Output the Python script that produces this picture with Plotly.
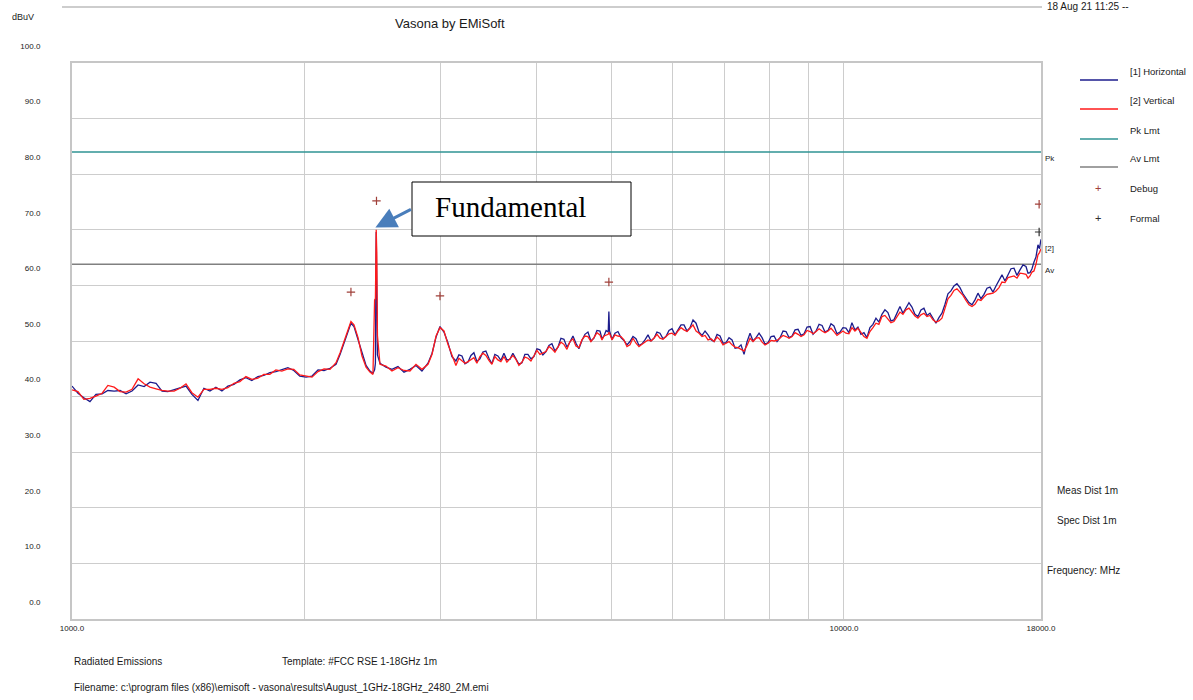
import math
import plotly.graph_objects as go

# ---------------- data ----------------
freq_mhz = [
    1000, 1018, 1036, 1055, 1074, 1094, 1113, 1134, 1154, 1175, 1196, 1218, 1240, 1262, 1285,
    1308, 1331, 1356, 1380, 1405, 1430, 1456, 1482, 1509, 1536, 1564, 1592, 1621, 1650, 1680,
    1710, 1741, 1772, 1804, 1837, 1870, 1904, 1938, 1973, 2010, 2046, 2083, 2121, 2159, 2198,
    2225, 2251, 2278, 2298, 2319, 2347, 2375, 2404, 2432, 2454,
    2466, 2472, 2478, 2482, 2487,
    2506, 2551, 2597, 2644, 2692, 2740, 2790, 2840, 2892, 2927, 2962, 2997, 3033, 3069, 3106,
    3143, 3171, 3200, 3229, 3258, 3287, 3316, 3346, 3376, 3406, 3437, 3468, 3499, 3530, 3562, 3594, 3627, 3659, 3692, 3725,
    3759, 3793, 3827, 3861, 3896, 3931, 3966, 4002, 4038, 4074, 4111, 4148, 4185, 4223, 4261, 4299, 4338, 4377, 4416, 4456,
    4496, 4536, 4577, 4618, 4660, 4702, 4744, 4787, 4830, 4859, 4888, 4919, 4950, 4960, 4970, 4988, 5006, 5051, 5096, 5142,
    5188, 5235, 5282, 5330, 5378, 5426, 5475, 5524, 5574, 5624, 5674, 5725, 5777, 5829, 5881, 5934, 5988, 6042, 6096, 6151,
    6206, 6262, 6318, 6375, 6433, 6491, 6549, 6608, 6667, 6727, 6788, 6849, 6910, 6972, 7035, 7098, 7162, 7227, 7292, 7357,
    7423, 7490, 7557, 7625, 7694, 7763, 7833, 7903, 7974, 8046, 8118, 8191, 8265, 8339, 8414, 8490, 8566, 8643, 8721, 8799,
    8878, 8958, 9039, 9120, 9202, 9285, 9368, 9452, 9537, 9621, 9706, 9794, 9882, 9971, 10060, 10150, 10241, 10333, 10426, 10520,
    10615, 10710, 10806, 10904, 11002, 11100, 11200, 11300, 11402, 11505, 11608, 11713, 11818, 11924, 12031, 12140, 12249, 12359, 12470, 12582,
    12695, 12810, 12925, 13041, 13158, 13276, 13396, 13517, 13638, 13760, 13884, 14009, 14135, 14262, 14391, 14520, 14651, 14782, 14915, 15049,
    15185, 15321, 15459, 15598, 15738, 15880, 16023, 16166, 16312, 16459, 16607, 16756, 16907, 17059, 17212, 17315, 17419, 17523, 17627, 17732, 17838, 17919, 18000,
]

horiz_dbuv = [
    41.9, 40.6, 39.8, 39.1, 40.4, 40.5, 41.1, 41.0, 41.1, 40.5, 41.0, 42.1, 41.8, 42.6, 42.4,
    41.0, 40.9, 41.2, 41.6, 41.9, 40.4, 39.3, 41.5, 41.0, 41.7, 41.0, 41.9, 42.2, 43.0, 43.4,
    42.9, 43.6, 43.8, 44.3, 44.5, 44.8, 45.2, 44.7, 43.7, 43.5, 43.7, 44.8, 44.7, 45.1, 45.8,
    47.6, 49.5, 51.8, 53.2, 52.6, 50.3, 47.6, 45.6, 44.6, 44.2,
    44.8, 46.0, 69.6, 56.0, 47.5,
    46.0, 45.3, 44.9, 45.4, 44.4, 44.9, 45.6, 44.6, 46.0, 47.8, 50.7, 52.6, 51.6, 49.7, 47.2,
    46.4, 47.5, 47.3, 45.9, 46.2, 47.4, 47.9, 46.3, 46.8, 48.0, 48.2, 46.9, 45.9, 47.6, 47.3, 46.5, 47.8, 46.6, 46.7, 47.8,
    46.9, 45.8, 46.1, 47.6, 47.6, 46.8, 47.2, 48.6, 48.4, 47.5, 48.1, 49.2, 49.5, 48.2, 48.9, 50.5, 50.3, 48.9, 49.8, 50.9,
    49.6, 48.6, 50.1, 51.2, 51.6, 50.0, 50.5, 51.9, 51.8, 50.4, 50.9, 51.9, 51.6, 55.3, 51.8, 50.9, 50.3, 51.4, 51.7, 50.6,
    50.1, 49.3, 49.9, 50.8, 50.4, 49.2, 49.5, 50.2, 51.1, 50.0, 50.5, 51.6, 51.4, 50.4, 50.8, 51.9, 52.2, 51.1, 51.9, 52.9,
    52.9, 51.8, 52.4, 53.8, 53.2, 51.6, 51.0, 51.8, 51.1, 50.2, 49.9, 51.2, 50.9, 49.6, 49.7, 50.6, 50.2, 48.7, 48.8, 49.3,
    47.6, 49.9, 51.4, 50.0, 50.6, 51.4, 50.6, 49.4, 49.7, 50.8, 50.9, 49.9, 50.6, 51.8, 51.7, 50.6, 50.9, 52.0, 52.1, 51.0,
    51.3, 52.5, 52.6, 51.2, 51.8, 53.0, 52.8, 51.6, 51.9, 53.1, 52.7, 51.3, 51.6, 52.4, 52.3, 51.5, 53.3, 52.0, 52.5, 51.2,
    51.5, 50.6, 52.4, 53.0, 54.1, 53.4, 54.8, 55.6, 55.1, 53.6, 53.8, 54.9, 56.2, 55.0, 55.9, 56.9, 56.1, 54.8, 54.4, 55.6,
    55.9, 54.6, 55.0, 54.2, 53.2, 54.2, 55.0, 56.6, 58.5, 59.0, 59.9, 60.3, 59.6, 58.5, 57.8, 56.9, 56.5, 57.4, 58.6, 57.6,
    58.4, 59.5, 59.7, 58.8, 59.9, 60.9, 61.9, 60.8, 62.0, 63.0, 63.1, 61.8, 62.8, 63.7, 63.4, 62.2, 62.3, 63.0, 64.2, 65.1, 67.3, 66.6, 68.3,
]

vert_dbuv = [
    41.2, 40.9, 39.5, 39.7, 40.1, 40.6, 42.0, 41.7, 40.9, 40.8, 41.3, 43.2, 42.3, 41.7, 41.4,
    41.1, 41.0, 41.0, 41.5, 42.3, 40.7, 39.9, 41.3, 41.3, 41.5, 41.3, 41.6, 42.4, 42.7, 43.6,
    43.1, 43.3, 44.0, 44.0, 44.8, 44.6, 45.0, 44.9, 43.9, 43.7, 43.5, 44.5, 45.0, 44.9, 46.1,
    47.9, 49.8, 52.1, 53.5, 52.9, 50.6, 47.3, 45.3, 44.4, 44.0,
    57.4, 57.6, 70.0, 66.0, 51.0,
    45.8, 45.5, 44.6, 45.2, 44.7, 44.6, 45.8, 44.9, 45.8, 47.6, 50.9, 52.4, 51.8, 49.4, 47.5,
    45.6, 46.9, 46.5, 46.0, 46.3, 46.6, 47.0, 46.0, 47.2, 47.8, 47.4, 46.5, 45.8, 47.2, 46.6, 46.3, 47.2, 46.2, 46.8, 47.4,
    46.7, 45.6, 46.2, 47.1, 46.9, 46.4, 47.3, 48.3, 47.6, 47.9, 48.1, 49.0, 48.6, 48.0, 49.0, 49.8, 49.4, 48.5, 49.9, 50.4,
    49.1, 48.8, 50.2, 50.9, 50.8, 49.9, 50.6, 51.5, 51.1, 50.2, 50.9, 51.0, 51.2, 51.6, 51.4, 50.8, 50.2, 51.1, 50.9, 50.8,
    50.2, 49.0, 49.3, 50.5, 49.6, 49.0, 49.4, 49.8, 50.2, 50.0, 50.5, 51.2, 50.5, 50.3, 50.8, 51.3, 51.4, 51.0, 51.8, 52.4,
    52.0, 51.7, 52.3, 52.9, 51.8, 51.4, 50.8, 51.0, 50.2, 50.4, 49.9, 50.7, 50.2, 49.3, 49.6, 49.9, 49.3, 48.9, 48.8, 48.5,
    48.2, 49.2, 50.5, 49.9, 50.5, 50.6, 49.8, 49.3, 49.6, 50.1, 50.0, 50.1, 50.5, 51.0, 50.8, 50.5, 50.8, 51.5, 51.2, 50.8,
    51.1, 51.9, 51.7, 51.3, 51.7, 52.2, 51.8, 51.5, 51.8, 52.3, 51.7, 51.0, 51.4, 51.8, 51.4, 51.3, 52.4, 51.8, 52.3, 51.5,
    50.8, 50.5, 51.7, 52.4, 53.2, 53.0, 54.4, 54.6, 54.0, 53.3, 53.5, 54.3, 55.2, 54.8, 55.6, 55.9, 55.2, 54.5, 54.1, 54.7,
    55.0, 54.4, 54.6, 53.8, 53.4, 53.6, 54.1, 55.9, 57.6, 58.2, 59.1, 59.4, 58.8, 58.2, 57.3, 56.5, 56.2, 56.6, 57.5, 57.3,
    57.9, 58.4, 58.5, 58.6, 59.0, 59.6, 60.6, 60.5, 61.4, 61.6, 61.7, 61.3, 62.2, 62.1, 62.0, 61.3, 61.7, 62.4, 62.6, 63.8, 65.5, 65.9, 66.6,
]

limit_freq = [1000, 18000]
pk_limit = [84.0, 84.0]
av_limit = [63.8, 63.8]

debug_freq = [2298, 2480, 2997, 4960, 17900]
debug_dbuv = [58.8, 75.2, 58.1, 60.6, 74.6]
formal_freq = [17900]
formal_dbuv = [69.6]

x_tick_vals = [1000, 2000, 3000, 4000, 5000, 6000, 7000, 8000, 9000, 10000, 18000]
x_tick_text = ["1000.0", "", "", "", "", "", "", "", "", "10000.0", "18000.0"]
y_tick_vals = [0, 10, 20, 30, 40, 50, 60, 70, 80, 90, 100]
y_tick_text = ["0.0", "10.0", "20.0", "30.0", "40.0", "50.0", "60.0", "70.0", "80.0", "90.0", "100.0"]

legend_names = ["[1] Horizontal", "[2] Vertical", "Pk Lmt", "Av Lmt", "Debug", "Formal"]

# ---------------- layout helpers (page pixel -> paper) ----------------
W, H = 1193, 700
L, R, T, B = 72, 1041, 63, 619   # plot area in page pixels
def px(p):
    return (p - L) / (R - L)
def py(p):
    return (B - p) / (B - T)

C_H = "#1c1c8c"
C_V = "#ff1a1a"
C_PK = "#2f9393"
C_AV = "#808080"
C_DBG = "#a0403a"
C_FRM = "#303030"
TXT = "#1a1a1a"
SANS = "Liberation Sans, Arial, sans-serif"

fig = go.Figure()
fig.add_trace(go.Scatter(x=limit_freq, y=pk_limit, mode="lines", line=dict(color=C_PK, width=1.5), name="Pk Lmt"))
fig.add_trace(go.Scatter(x=limit_freq, y=av_limit, mode="lines", line=dict(color=C_AV, width=1.5), name="Av Lmt"))
fig.add_trace(go.Scatter(x=freq_mhz, y=horiz_dbuv, mode="lines", line=dict(color=C_H, width=1.3), name="[1] Horizontal"))
fig.add_trace(go.Scatter(x=freq_mhz, y=vert_dbuv, mode="lines", line=dict(color=C_V, width=1.3), name="[2] Vertical"))
fig.add_trace(go.Scatter(x=debug_freq, y=debug_dbuv, mode="markers", name="Debug",
                         marker=dict(symbol="cross-thin", size=6, line=dict(color=C_DBG, width=1.2))))
fig.add_trace(go.Scatter(x=formal_freq, y=formal_dbuv, mode="markers", name="Formal",
                         marker=dict(symbol="cross-thin", size=6, line=dict(color=C_FRM, width=1.2))))

annotations = []
shapes = []

def text(x, y, s, size=10, xanchor="left", yanchor="middle", color=TXT, family=SANS):
    annotations.append(dict(x=x, y=y, xref="paper", yref="paper", text=s, showarrow=False,
                            xanchor=xanchor, yanchor=yanchor,
                            font=dict(size=size, color=color, family=family)))

# header
shapes.append(dict(type="line", xref="paper", yref="paper", x0=px(62), x1=px(1042), y0=py(7), y1=py(7),
                   line=dict(color="#bdbdbd", width=1.5)))
text(px(450), py(24), "Vasona by EMiSoft", size=13, xanchor="center")
text(px(10), py(17), "dBuV", size=9)
text(px(1045), py(7), "18 Aug 21 11:25 --", size=10)

# legend (custom)
legend_text_y = [71, 100, 130, 158, 188, 218]
line_colors = [C_H, C_V, C_PK, C_AV]
for i, name in enumerate(legend_names):
    text(px(1128), py(legend_text_y[i]), name, size=9.5)
    if i < 4:
        ly = legend_text_y[i] + 9
        shapes.append(dict(type="line", xref="paper", yref="paper", x0=px(1080), x1=px(1118),
                           y0=py(ly), y1=py(ly), line=dict(color=line_colors[i], width=1.5)))
text(px(1098), py(188), "+", size=11, xanchor="center", color=C_DBG)
text(px(1098), py(218), "+", size=11, xanchor="center", color=C_FRM)

# right side labels
text(px(1043), py(158), "Pk", size=8)
text(px(1043), py(248), "[2]", size=8)
text(px(1043), py(270), "Av", size=8)
text(px(1055), py(490), "Meas Dist 1m", size=10)
text(px(1055), py(520), "Spec Dist 1m", size=10)
text(px(1045), py(570), "Frequency: MHz", size=10)

# footer
text(px(72), py(661), "Radiated Emissions", size=10)
text(px(280), py(661), "Template: #FCC RSE 1-18GHz 1m", size=10)
text(px(72), py(688), "Filename: c:\\program files (x86)\\emisoft - vasona\\results\\August_1GHz-18GHz_2480_2M.emi", size=10)

# Fundamental callout
shapes.append(dict(type="rect", xref="paper", yref="paper", x0=px(412), x1=px(631), y0=py(236), y1=py(182),
                   line=dict(color="#000000", width=1), fillcolor="#ffffff", layer="above"))
text(px(433), py(207), "Fundamental", size=29, family="Liberation Serif, Times New Roman, serif", color="#000000")
annotations.append(dict(x=math.log10(2472), y=70.4, xref="x", yref="y", text="", showarrow=True,
                        ax=37, ay=-19, axref="pixel", ayref="pixel",
                        arrowhead=2, arrowsize=1.4, arrowwidth=3, arrowcolor="#4a7ebb", standoff=0))

fig.update_layout(
    width=W, height=H,
    margin=dict(l=L, r=W - R, t=T, b=H - B),
    paper_bgcolor="#ffffff", plot_bgcolor="#ffffff",
    showlegend=False,
    font=dict(family=SANS, color=TXT),
    annotations=annotations, shapes=shapes,
    xaxis=dict(type="log", range=[3, math.log10(18000)], tickvals=x_tick_vals, ticktext=x_tick_text,
               showgrid=True, gridcolor="#cdcdcd", gridwidth=1.3, zeroline=False,
               showline=True, linecolor="#c6c6c6", linewidth=2, mirror=True, ticks="",
               tickfont=dict(size=8, color=TXT)),
    yaxis=dict(range=[0, 100], tickvals=y_tick_vals, ticktext=y_tick_text,
               showgrid=True, gridcolor="#cdcdcd", gridwidth=1.3, zeroline=False,
               showline=True, linecolor="#c6c6c6", linewidth=2, mirror=True, ticks="",
               ticklabelshift=-17, ticklabelstandoff=28,
               tickfont=dict(size=8, color=TXT)),
)

fig.write_html("out.html", config={"displayModeBar": False},
               post_script="document.body.style.margin='0';document.body.style.overflow='hidden';")
